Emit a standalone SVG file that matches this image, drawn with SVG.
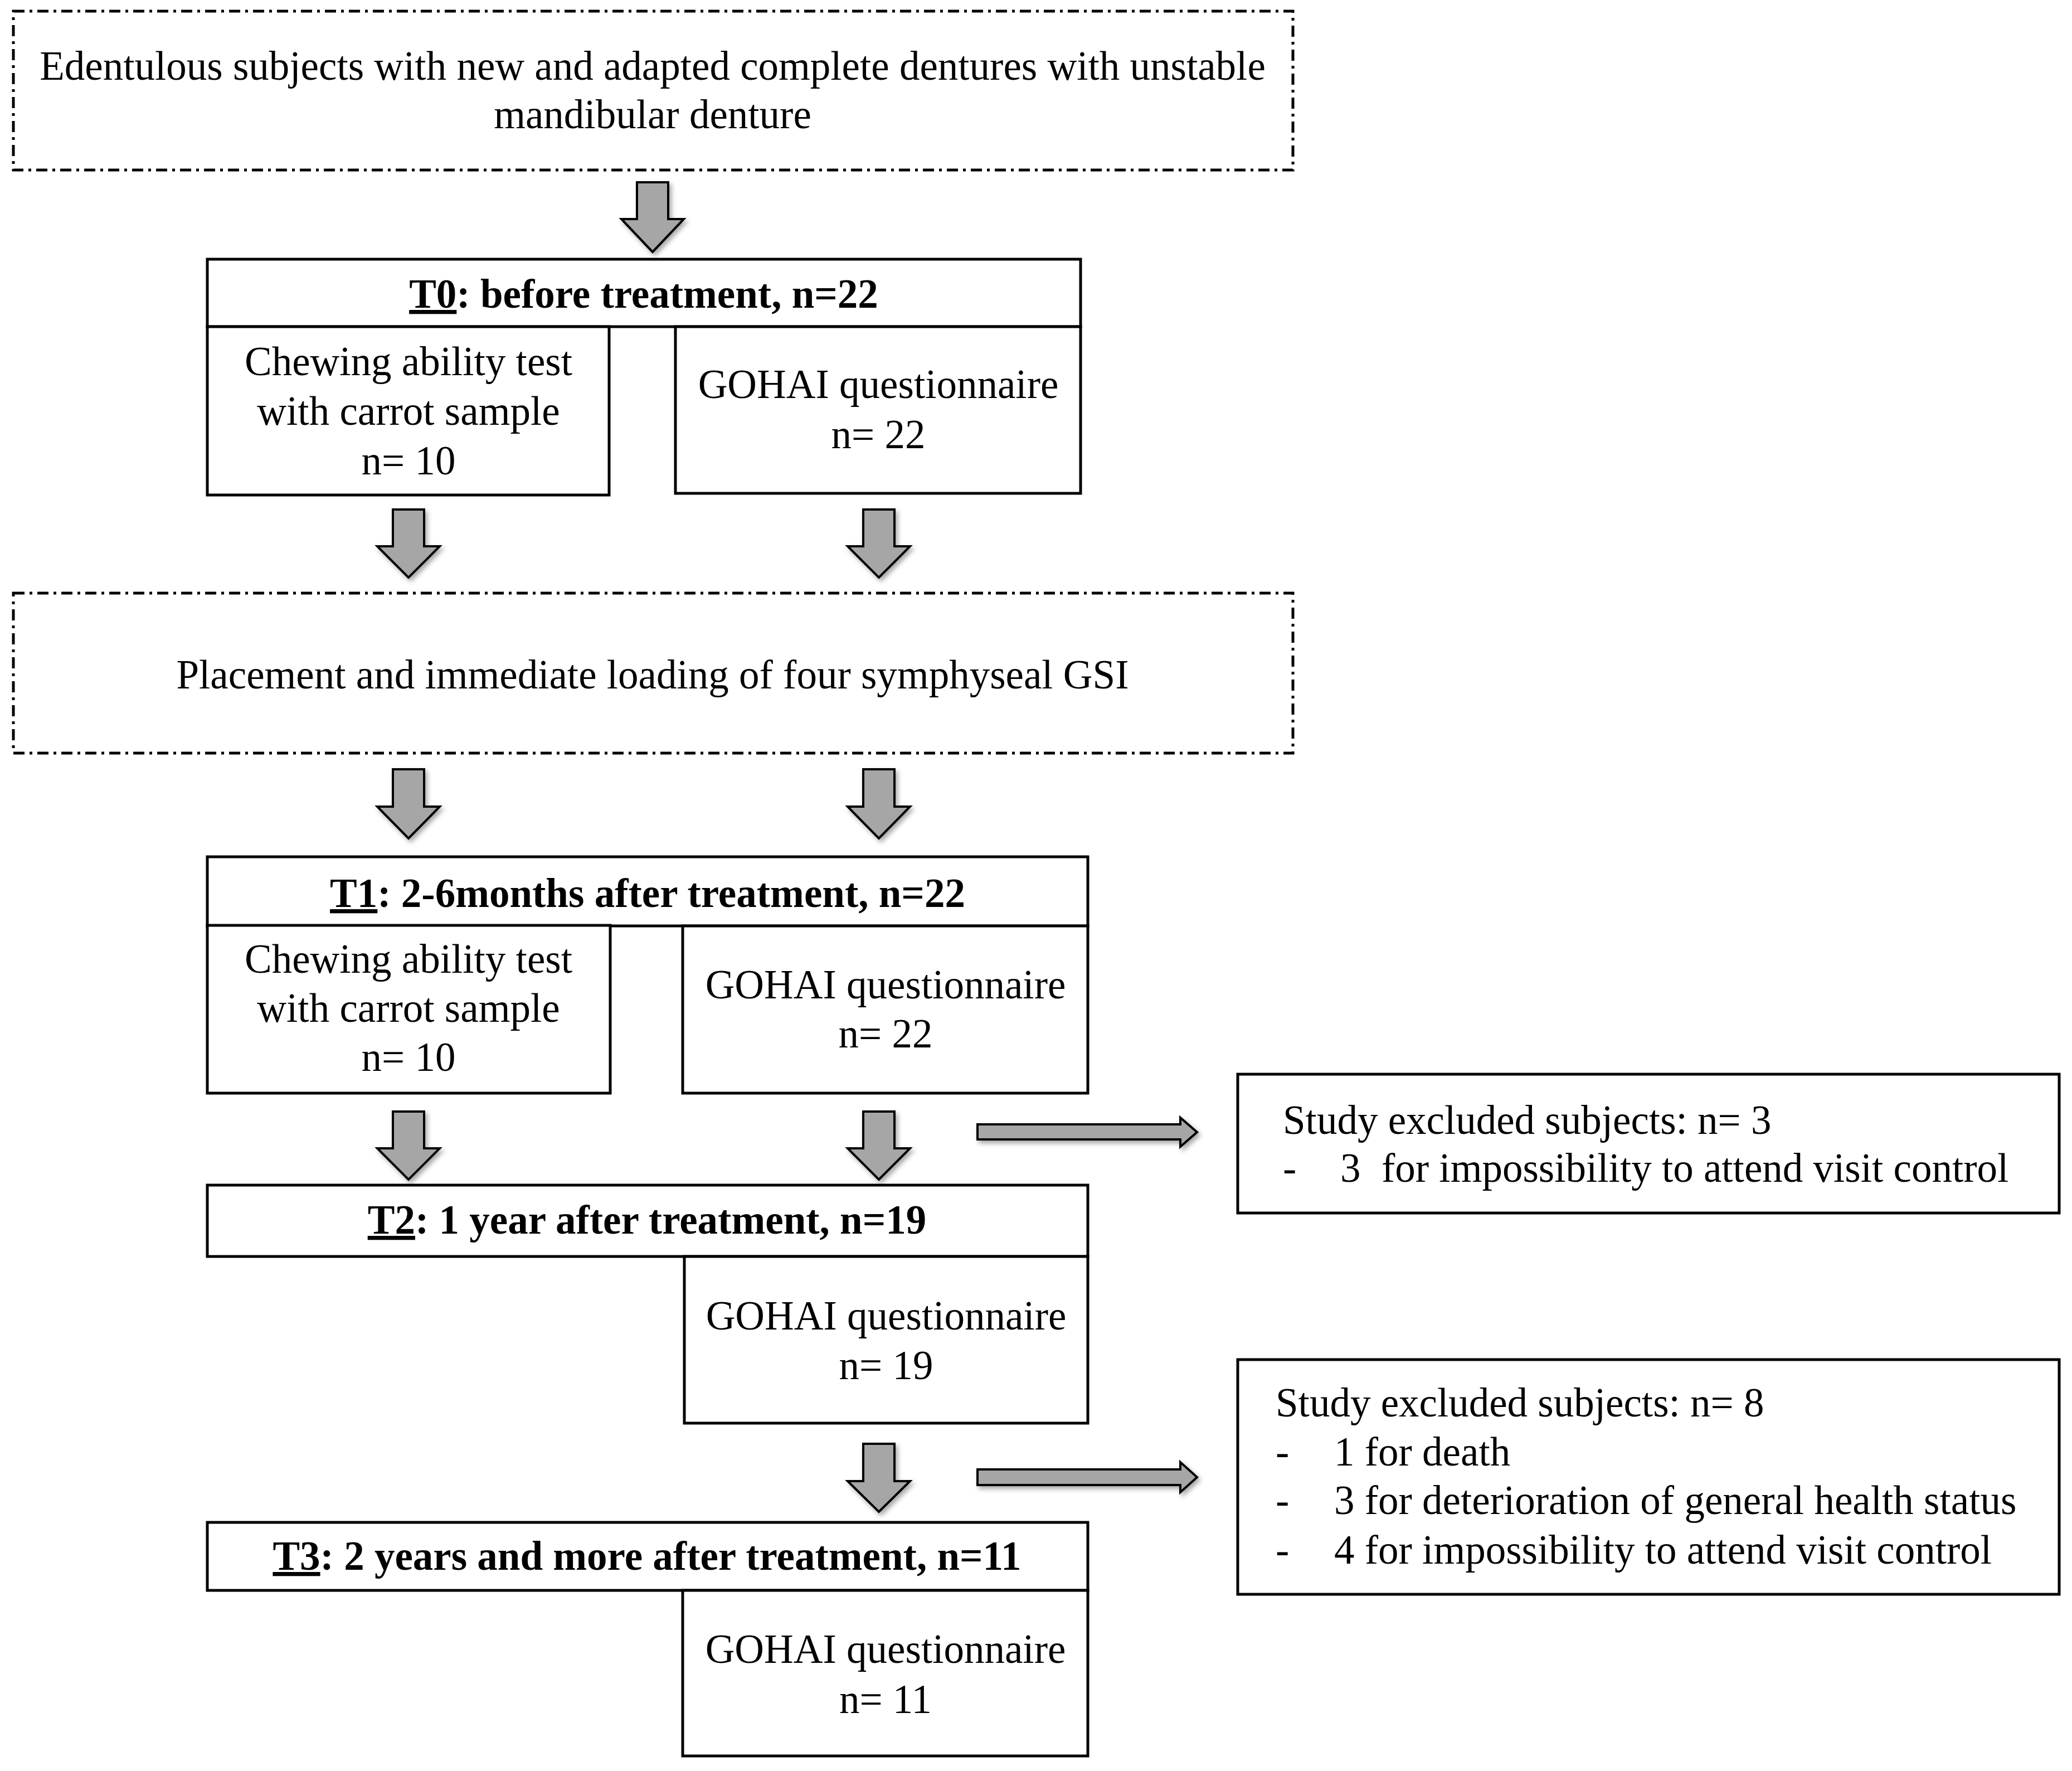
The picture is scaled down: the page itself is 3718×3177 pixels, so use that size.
<svg xmlns="http://www.w3.org/2000/svg" width="3718" height="3177" viewBox="0 0 3718 3177">
<defs>
<style>
.box{fill:#fff;stroke:#000;stroke-width:5}
.dash{fill:#fff;stroke:#000;stroke-width:5;stroke-dasharray:20 9 5 9}
.arr{fill:#a6a6a6;stroke:#000;stroke-width:4;stroke-linejoin:miter;filter:url(#sh)}
.t{font-family:"Liberation Serif","Times New Roman",serif;font-size:73px;fill:#000}
.c{text-anchor:middle}
.b{font-weight:bold}
</style>
<filter id="sh" x="-30%" y="-30%" width="160%" height="160%">
<feDropShadow dx="4" dy="5" stdDeviation="4" flood-color="#000" flood-opacity="0.35"/>
</filter>
</defs>
<rect width="3718" height="3177" fill="#fff"/>

<g id="start">
<rect class="dash" x="24" y="20" width="2296" height="285"/>
<text class="t c" x="1171" y="143">Edentulous subjects with new and adapted complete dentures with unstable</text>
<text class="t c" x="1171" y="230">mandibular denture</text>
</g>

<g id="t0">
<rect class="box" x="372" y="465" width="1567" height="121"/>
<text class="t c b" x="1155" y="552"><tspan text-decoration="underline">T0</tspan>: before treatment, n=22</text>
<rect class="box" x="372" y="586" width="721" height="302"/>
<text class="t c" x="733" y="673">Chewing ability test</text>
<text class="t c" x="733" y="762">with carrot sample</text>
<text class="t c" x="733" y="851">n= 10</text>
<rect class="box" x="1212" y="586" width="727" height="299"/>
<text class="t c" x="1576" y="714">GOHAI questionnaire</text>
<text class="t c" x="1576" y="804">n= 22</text>
</g>

<g id="placement">
<rect class="dash" x="24" y="1064" width="2296" height="287"/>
<text class="t c" x="1171" y="1235">Placement and immediate loading of four symphyseal GSI</text>
</g>

<g id="t1">
<rect class="box" x="372" y="1537" width="1580" height="124"/>
<text class="t c b" x="1162" y="1627"><tspan text-decoration="underline">T1</tspan>: 2-6months after treatment, n=22</text>
<rect class="box" x="372" y="1660" width="723" height="301"/>
<text class="t c" x="733" y="1745">Chewing ability test</text>
<text class="t c" x="733" y="1833">with carrot sample</text>
<text class="t c" x="733" y="1921">n= 10</text>
<rect class="box" x="1225" y="1661" width="727" height="300"/>
<text class="t c" x="1589" y="1791">GOHAI questionnaire</text>
<text class="t c" x="1589" y="1879">n= 22</text>
</g>

<g id="excl1">
<rect class="box" x="2221" y="1927" width="1474" height="249"/>
<text class="t" x="2302" y="2034">Study excluded subjects: n= 3</text>
<text class="t" x="2302" y="2120">-</text>
<text class="t" x="2405" y="2120">3</text>
<text class="t" x="2479" y="2120">for impossibility to attend visit control</text>
</g>

<g id="t2">
<rect class="box" x="372" y="2126" width="1580" height="128"/>
<text class="t c b" x="1161" y="2213"><tspan text-decoration="underline">T2</tspan>: 1 year after treatment, n=19</text>
<rect class="box" x="1228" y="2254" width="724" height="299"/>
<text class="t c" x="1590" y="2385">GOHAI questionnaire</text>
<text class="t c" x="1590" y="2474">n= 19</text>
</g>

<g id="excl2">
<rect class="box" x="2221" y="2439" width="1474" height="421"/>
<text class="t" x="2289" y="2541">Study excluded subjects: n= 8</text>
<text class="t" x="2289" y="2629">-</text>
<text class="t" x="2394" y="2629">1 for death</text>
<text class="t" x="2289" y="2716">-</text>
<text class="t" x="2394" y="2716">3 for deterioration of general health status</text>
<text class="t" x="2289" y="2805">-</text>
<text class="t" x="2394" y="2805">4 for impossibility to attend visit control</text>
</g>

<g id="t3">
<rect class="box" x="372" y="2731" width="1580" height="122"/>
<text class="t c b" x="1161" y="2816"><tspan text-decoration="underline">T3</tspan>: 2 years and more after treatment, n=11</text>
<rect class="box" x="1225" y="2853" width="727" height="297"/>
<text class="t c" x="1589" y="2983">GOHAI questionnaire</text>
<text class="t c" x="1589" y="3073">n= 11</text>
</g>

<g id="connectors">
<path class="arr" d="M1143 327 H1199 V393 H1227 L1171 452 L1115 393 H1143 Z"/>
<path class="arr" d="M705 914 H761 V980 H789 L733 1036 L677 980 H705 Z"/>
<path class="arr" d="M1549 914 H1605 V980 H1633 L1577 1036 L1521 980 H1549 Z"/>
<path class="arr" d="M705 1380 H761 V1447 H789 L733 1504 L677 1447 H705 Z"/>
<path class="arr" d="M1549 1380 H1605 V1447 H1633 L1577 1504 L1521 1447 H1549 Z"/>
<path class="arr" d="M705 1994 H761 V2060 H789 L733 2116 L677 2060 H705 Z"/>
<path class="arr" d="M1549 1994 H1605 V2060 H1633 L1577 2116 L1521 2060 H1549 Z"/>
<path class="arr" d="M1549 2590 H1605 V2657 H1633 L1577 2712 L1521 2657 H1549 Z"/>
<path class="arr" d="M1754 2017 H2118 V2005 L2148 2031 L2118 2057 V2044 H1754 Z"/>
<path class="arr" d="M1754 2636 H2118 V2623 L2148 2650 L2118 2677 V2664 H1754 Z"/>
</g>
</svg>
